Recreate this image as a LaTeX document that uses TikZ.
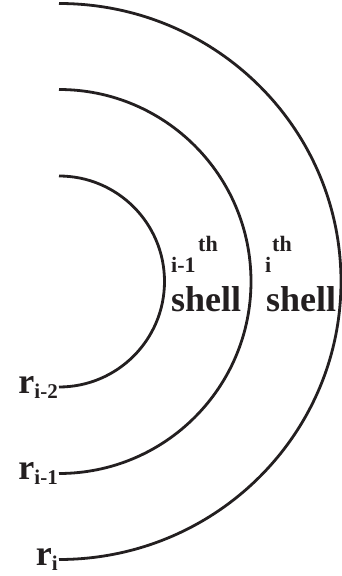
\documentclass[tikz,border=0pt]{standalone}
\usepackage{fontspec}
\setmainfont{Liberation Serif}
\definecolor{ink}{RGB}{35,31,32}
\newcommand{\rsub}[1]{\lower5pt\hbox{\fontsize{21}{22}\selectfont #1}}
\begin{document}
\begin{tikzpicture}[
  x=1pt, y=1pt,
  shellarc/.style={line width=2.8pt, ink},
  rlabel/.style={font=\fontsize{36}{40}\selectfont\bfseries, text=ink, inner sep=1pt, anchor=east},
  bigtext/.style={font=\fontsize{36}{40}\selectfont\bfseries, text=ink, inner sep=0pt, anchor=base west},
  smalltext/.style={font=\fontsize{22}{24}\selectfont\bfseries, text=ink, inner sep=0pt, anchor=base west}
]
  \useasboundingbox (0,0) rectangle (342,576);

  % lower ends of the shells
  \coordinate (inbot)  at (59,189);
  \coordinate (midbot) at (59,102.5);
  \coordinate (outbot) at (59,16.5);

  \draw[shellarc] (inbot)  arc[start angle=-90, end angle=90, radius=105.5];
  \draw[shellarc] (midbot) arc[start angle=-90, end angle=90, radius=192];
  \draw[shellarc] (outbot) arc[start angle=-90, end angle=90, x radius=282, y radius=278];

  \node[rlabel] (ri2) at (inbot)  {r\rsub{i-2}};
  \node[rlabel] (ri1) at (midbot) {r\rsub{i-1}};
  \node[rlabel] (ri)  at (outbot) {r\rsub{i}};

  \node[smalltext] (idx1)   at (171,303) {i-1};
  \node[smalltext] (th1)    at (198,324) {th};
  \node[bigtext]   (shell1) at (171,264) {shell};

  \node[smalltext] (idx2)   at (265,303) {i};
  \node[smalltext] (th2)    at (272,324) {th};
  \node[bigtext]   (shell2) at (266,264) {shell};
\end{tikzpicture}
\end{document}
